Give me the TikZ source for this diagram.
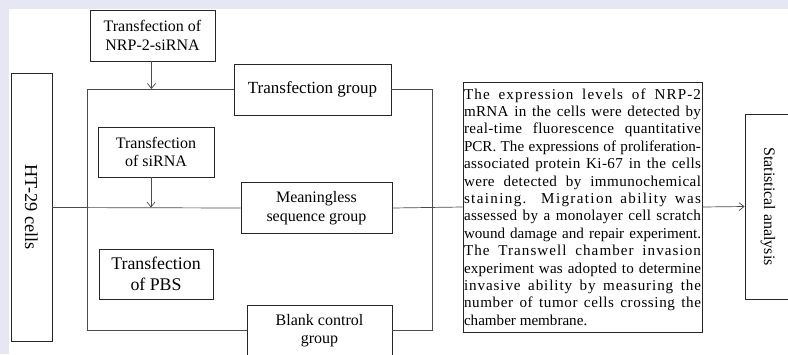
\documentclass[tikz,border=0pt]{standalone}
\usepackage{fontspec}
\setmainfont{Liberation Serif}
\usetikzlibrary{arrows.meta}
\definecolor{lav}{RGB}{231,231,243}
\newcommand\lsp[2]{{\addfontfeatures{LetterSpace=#1}#2}}
\begin{document}
\begin{tikzpicture}[x=1pt,y=-1pt,
  box/.style={draw=black!85, line width=0.9pt, rectangle, inner sep=0pt, align=center, font=\fontsize{16}{18.5}\selectfont},
  conn/.style={draw=black!70, line width=0.7pt},
  arr/.style={conn, -{Straight Barb[length=5pt,width=8pt]}}]
\useasboundingbox (0,0) rectangle (788,354);
\fill[lav] (0,0) rectangle (788,354);
\fill[white] (9,9) rectangle (788,354);

\node[box, minimum width=41, minimum height=268, font=\fontsize{18.3}{20}\selectfont] (ht) at (31.5,207) {\rotatebox{-90}{HT-29 cells}};
\node[box, minimum width=125, minimum height=51] (nrp) at (152.5,35.5) {Transfection of\\NRP-2-siRNA};
\node[box, minimum width=157, minimum height=51, font=\fontsize{17}{19}\selectfont] (tg) at (312.5,89.5) {Transfection group};
\node[box, minimum width=116, minimum height=50] (sirna) at (156,152) {Transfection\\of siRNA};
\node[box, minimum width=151, minimum height=51] (mg) at (316.5,208) {Meaningless\\sequence group};
\node[box, minimum width=114, minimum height=50, font=\fontsize{17.8}{20.5}\selectfont] (pbs) at (156,274) {Transfection\\of PBS};
\node[box, minimum width=145, minimum height=51] (bc) at (319.5,330.5) {Blank control\\group};
\node[box, minimum width=239, minimum height=250, inner xsep=1pt, align=justify, text width=237, font=\fontsize{15.1}{17.4}\selectfont] (txt) at (582.5,207) {\lsp{7.5}{The expression levels of NRP-2}\linebreak
\lsp{2}{mRNA in the cells were detected by}\linebreak
\lsp{3}{real-time fluorescence quantitative}\linebreak
PCR. The expressions of proliferation-\linebreak
\lsp{2.5}{associated protein Ki-67 in the cells}\linebreak
\lsp{3}{were detected by immunochemical}\linebreak
\lsp{9}{staining. Migration ability was}\linebreak
\lsp{2}{assessed by a monolayer cell scratch}\linebreak
wound damage and repair experiment.\linebreak
\lsp{7}{The Transwell chamber invasion}\linebreak
\lsp{1.5}{experiment was adopted to determine}\linebreak
\lsp{6}{invasive ability by measuring the}\linebreak
\lsp{4}{number of tumor cells crossing the}\linebreak
chamber membrane.};
\node[box, minimum width=46, minimum height=185] (stat) at (768,206.5) {\rotatebox{-90}{Statistical analysis}};

% frame
\coordinate (tl) at (87,89);
\coordinate (tr) at (432,89);
\coordinate (bl) at (87,330.5);
\coordinate (br) at (432,330.5);
\coordinate (a1) at (151.5,89);
\coordinate (a2) at (151,207.5);

\draw[conn] (tg.west |- tl) -- (tl) -- (bl) -- (bc.west);
\draw[conn] (tg.east |- tr) -- (tr) -- (br) -- (bc.east);
\draw[conn] (ht.east |- a2) -- (mg.west);
\draw[conn] (mg.east) -- (txt.west);
\draw[arr] (nrp.south -| a1) -- (a1);
\draw[arr] (sirna.south -| a2) -- (a2);
\draw[arr] (txt.east) -- (stat.west);
\end{tikzpicture}
\end{document}
